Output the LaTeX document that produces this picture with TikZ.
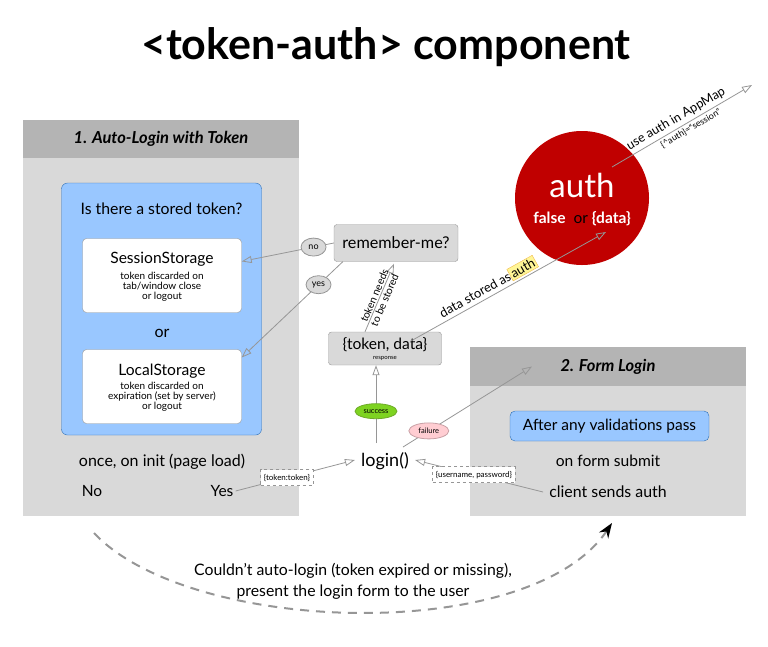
\documentclass[tikz,border=0pt]{standalone}
\usepackage{fontspec}
\setmainfont{Lato}
\usetikzlibrary{arrows.meta,calc,shapes.geometric}

\definecolor{panelgray}{RGB}{217,217,217}
\definecolor{headgray}{RGB}{180,180,180}
\definecolor{boxblue}{RGB}{153,199,255}
\definecolor{edgeblue}{RGB}{45,110,180}
\definecolor{authred}{RGB}{192,0,0}
\definecolor{linegray}{RGB}{150,150,150}
\definecolor{okgreen}{RGB}{126,211,33}
\definecolor{okedge}{RGB}{110,170,40}
\definecolor{failpink}{RGB}{255,205,210}
\definecolor{failedge}{RGB}{200,160,165}
\definecolor{tagyellow}{RGB}{255,246,150}
\definecolor{tagedge}{RGB}{240,185,60}

\newcommand{\fsz}[2]{\fontsize{#1}{#2}\selectfont}
\newcommand{\authtag}{{\setlength{\fboxsep}{1.5pt}\fcolorbox{tagedge}{tagyellow}{auth}}}

\begin{document}
\begin{tikzpicture}[x=1pt, y=-1pt,
  every node/.style={inner sep=0pt},
  header/.style={fill=headgray, minimum width=276pt, minimum height=38pt, font=\fsz{16.5}{19}\bfseries\itshape},
  store/.style={draw=linegray, fill=white, rounded corners=4pt, minimum width=159pt, minimum height=74pt},
  query/.style={draw=edgeblue, fill=boxblue, rounded corners=6pt},
  flowbox/.style={draw=linegray, fill=panelgray, rounded corners=3pt},
  pill/.style={ellipse, draw=linegray, fill=panelgray, minimum width=25pt, minimum height=18pt, font=\fsz{9}{10}},
  tag/.style={draw=linegray, dashed, fill=white, minimum height=16pt, inner xsep=3pt, font=\fsz{8}{9}},
  arr/.style={draw=linegray, line width=0.8pt, -{Triangle[open, length=10pt, width=7pt]}}
]
\useasboundingbox (0,0) rectangle (768,646);

% Title
\node[font=\fsz{43}{48}\bfseries] (title) at (386,47) {<token-auth> component};

% Panel 1
\fill[panelgray] (23,158) rectangle (299,516);
\node[header] (h1) at (161,139) {1. Auto-Login with Token};
\node[query, minimum width=200pt, minimum height=252pt] (stored) at (161.5,309) {};
\node[font=\fsz{15.8}{18}] (q) at (161.5,209) {Is there a stored token?};

\node[store] (ss) at (162,275.5) {};
\node[font=\fsz{15.6}{18}] (ssname) at (162,259) {SessionStorage};
\node[font=\fsz{10}{10}, align=center] (ssnote) at (162,286.5) {token discarded on\\tab/window close\\or logout};

\node[font=\fsz{16}{18}] (or) at (162,333) {or};

\node[store] (ls) at (162,386.5) {};
\node[font=\fsz{15.6}{18}] (lsname) at (162,371) {LocalStorage};
\node[font=\fsz{10}{10}, align=center] (lsnote) at (162,396.5) {token discarded on\\expiration (set by server)\\or logout};

\node[font=\fsz{16}{18}] (init) at (162,462) {once, on init (page load)};
\node[font=\fsz{15.5}{18}] (nolabel) at (92,491) {No};
\node[font=\fsz{15.5}{18}] (yeslabel) at (222,491) {Yes};

% Panel 2
\fill[panelgray] (470,386) rectangle (746,516);
\node[header, minimum height=39pt] (h2) at (608,366.5) {2. Form Login};
\node[query, rounded corners=5pt, minimum width=199pt, minimum height=30pt, font=\fsz{15.5}{18}] (valid) at (609.5,426) {After any validations pass};
\node[font=\fsz{15.6}{18}] (submit) at (608,461) {on form submit};
\node[font=\fsz{15.9}{18}] (client) at (608,492) {client sends auth};

% Flow
\node[flowbox, minimum width=124pt, minimum height=37pt, font=\fsz{16.2}{19}] (rem) at (396,243) {remember-me?};
\node[flowbox, minimum width=113pt, minimum height=33pt] (td) at (385,348.5) {};
\node[font=\fsz{15.6}{18}] (tdname) at (385,345) {\{token, data\}};
\node[font=\fsz{6}{7}] (tdnote) at (385,358.5) {response};

\node[circle, fill=authred, minimum size=134pt] (auth) at (582,198) {};
\node[text=white, font=\fsz{33}{36}] (authname) at (582,185) {auth};
\node[font=\fsz{15.5}{17}] (authval) at (582,219) {\textcolor{white}{\bfseries false}\ \ or \textcolor{white}{\bfseries\{data\}}};
\coordinate (appmap) at (752,85);

\node[font=\fsz{18}{21}] (login) at (385,461) {login()};

% Edges
\draw[arr] (rem.west) -- node[pill, pos=0.22] (nopill) {no} (ss.10);
\draw[arr] ([xshift=9pt]rem.south west) -- node[pill, pos=0.24] (yespill) {yes} (ls.20);
\draw[arr] ([xshift=-20pt]td.north) -- node[sloped, align=center, font=\fsz{10.5}{11}] (need) {token needs\\to be stored} ([xshift=-2pt, yshift=-2pt]rem.south);
\draw[arr] ($(td.center)+(25,-7)$) -- node[sloped, above=2pt, pos=0.42, font=\fsz{13}{15}] (storedas) {data stored as\authtag} ($(auth.center)+(24,34)$);
\draw[arr] ($(auth.center)+(30,-31)$) -- node[sloped, above=3pt, pos=0.49, font=\fsz{12.7}{14}] (use) {use auth in AppMap}
  node[sloped, below=2pt, pos=0.54, font=\fsz{9}{10}] (sess) {\{\textasciicircum auth\}=“session”} (appmap);

\draw[arr] ([xshift=-9pt, yshift=9pt]login.north) -- node[ellipse, fill=okgreen, draw=okedge, minimum width=42pt, minimum height=15pt, font=\fsz{7.5}{8}, pos=0.41] (ok) {success} ([xshift=-9pt]td.south);
\draw[arr] ([xshift=18pt, yshift=14pt]login.center) -- node[ellipse, fill=failpink, draw=failedge, minimum width=40pt, minimum height=16pt, font=\fsz{7.5}{8}, pos=0.2] (fail) {failure} ([xshift=-76pt]h2.center);

\draw[arr] ([xshift=2pt]yeslabel.east) -- node[tag, pos=0.43] (tok) {\{token:token\}} ([xshift=-6pt, yshift=1pt]login.west);
\draw[arr] ([xshift=-6pt]client.west) -- node[tag, pos=0.54] (cred) {\{username, password\}} ([xshift=6pt, yshift=1pt]login.east);

% Back to the form
\coordinate (back) at (94,533);
\coordinate (formtip) at (612,523);
\draw[linegray, line width=2pt, dash pattern=on 9pt off 7pt, -{Stealth[black, length=15pt, width=11pt]}] (back) .. controls (190,635) and (530,645) .. (formtip);
\node[font=\fsz{15.8}{21}, align=center] (giveup) at (353,581) {Couldn’t auto-login (token expired or missing),\\present the login form to the user};

\end{tikzpicture}
\end{document}
